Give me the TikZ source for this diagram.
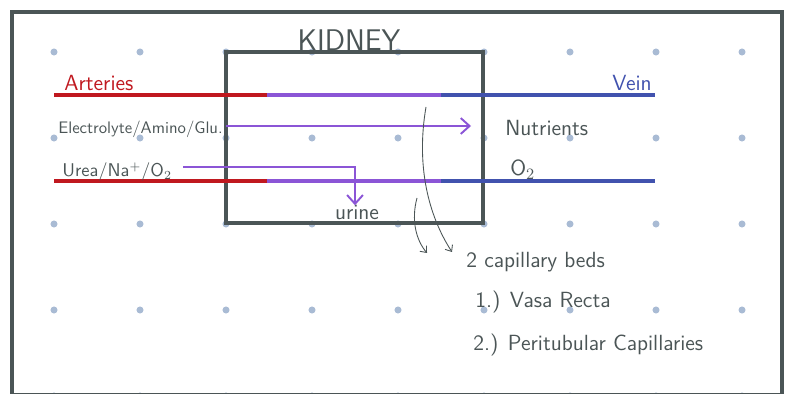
\documentclass[tikz,border=0pt]{standalone}
\usepackage{tikz}
\usetikzlibrary{arrows.meta}
\usetikzlibrary{positioning}
\definecolor{artred}{HTML}{C0181F}
\definecolor{capviolet}{HTML}{8B55D6}
\definecolor{veinblue}{HTML}{4152AE}
\definecolor{ink}{HTML}{4B5556}
\definecolor{dotblue}{HTML}{A9BBD4}
\tikzset{circ/.style = {fill=dotblue, circle, inner sep = 0, minimum size = 4}}
\tikzset{vessel/.style = {line width = 2.2pt}}
\tikzset{flow/.style = {capviolet, line width = 1.1pt, -{Straight Barb[length = 5pt, width = 9pt]}}}
\tikzset{hint/.style = {ink, line width = 0.5pt, -{Straight Barb[length = 3pt, width = 5pt]}}}
\tikzset{hand/.style = {ink, inner sep = 0, font = \sffamily\fontsize{12.5}{14}\selectfont}}
\tikzset{smallhand/.style = {hand, font = \sffamily\fontsize{9.5}{11}\selectfont}}

\begin{document}
\begin{tikzpicture}[x = 0.02cm, y = -0.02cm]
      \useasboundingbox (0, 0) rectangle (790, 394);

      % dot grid
      \foreach \i in {0,...,8}
        \foreach \j in {0,...,4}
          \node [circ] (dot\i\j) at ({54 + 86*\i}, {52 + 86*\j}) {};

      % frame and kidney
      \draw [ink, line width = 2.8pt] (12, 12) rectangle (782, 395);
      \draw [ink, line width = 2pt] (226, 52) rectangle (483, 223);
      \node [hand, font = \sffamily\fontsize{17}{19}\selectfont, anchor = base] (kidney) at (349, 51) {KIDNEY};

      % vessels
      \coordinate (artTop) at (54, 95);
      \coordinate (capTop) at (267, 95);
      \coordinate (veinTop) at (441, 95);
      \coordinate (endTop) at (655, 95);
      \coordinate (artLow) at (54, 181);
      \coordinate (capLow) at (267, 181);
      \coordinate (veinLow) at (441, 181);
      \coordinate (endLow) at (655, 181);
      \draw [vessel, artred] (artTop) -- (capTop);
      \draw [vessel, capviolet] (capTop) -- (veinTop);
      \draw [vessel, veinblue] (veinTop) -- (endTop);
      \draw [vessel, artred] (artLow) -- (capLow);
      \draw [vessel, capviolet] (capLow) -- (veinLow);
      \draw [vessel, veinblue] (veinLow) -- (endLow);

      \node [hand, artred, anchor = base west] (arteries) at (64, 91) {Arteries};
      \node [hand, veinblue, anchor = base east] (vein) at (652, 91) {Vein};

      % filtered / reabsorbed
      \node [smallhand, anchor = base west] (electro) at (58, 134) {Electrolyte/Amino/Glu.};
      \node [smallhand, font = \sffamily\fontsize{10.5}{12}\selectfont, anchor = base west] (urea) at (62, 177) {Urea/Na$^{+}$/O$_2$};
      \node [hand, anchor = base] (urine) at (357, 220) {urine};
      \node [hand, anchor = base west] (nutrients) at (505, 136) {Nutrients};
      \node [hand, anchor = base west] (oxygen) at (510, 176) {O$_2$};

      \coordinate (electroIn) at (226, 126);
      \coordinate (electroOut) at (471, 126);
      \draw [flow] (electroIn) -- (electroOut);
      \coordinate (ureaIn) at (183, 167);
      \draw [flow] (ureaIn) -| (urine.north -| 355, 0);

      % capillary beds
      \node [hand, anchor = base west] (beds) at (466, 268) {2 capillary beds};
      \node [hand, anchor = base west] (vasa) at (475, 308) {1.) Vasa Recta};
      \node [hand, anchor = base west] (peri) at (473, 351) {2.) Peritubular Capillaries};

      \coordinate (hintA) at (426, 107);
      \coordinate (hintB) at (417, 198);
      \draw [hint] (hintA) .. controls (416, 165) and (428, 215) .. (452, 252);
      \draw [hint] (hintB) .. controls (411, 220) and (416, 240) .. (427, 253);
    \end{tikzpicture}
\end{document}
